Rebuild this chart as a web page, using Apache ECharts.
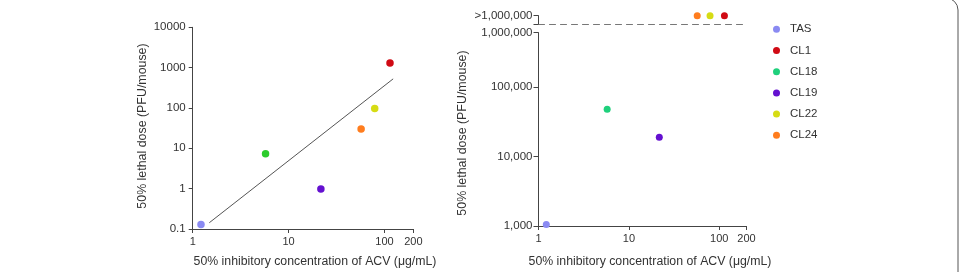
<!DOCTYPE html>
<html>
<head>
<meta charset="utf-8">
<script src="https://cdn.jsdelivr.net/npm/echarts@6/dist/echarts.min.js"></script>
<style>
  html, body { margin: 0; padding: 0; background: #fff; }
  #main { width: 961px; height: 272px; }
</style>
</head>
<body>
<div id="main"></div>
<script>
// 数据
var strains = ['TAS', 'CL1', 'CL18', 'CL19', 'CL22', 'CL24'];
var ic50 = [1.22, 114, 5.75, 21.7, 79, 57];
var ld50Left = [0.13, 1300, 7.3, 0.98, 97, 30];
var ld50Right = [1050, '>1,000,000', 48000, 19000, '>1,000,000', '>1,000,000'];
var colorsRight = ['#8a8af2', '#d00a14', '#1fd07c', '#6410d0', '#d6dc14', '#ff7d1e'];
var colorsLeft = ['#8a8af2', '#d00a14', '#2ccc2c', '#6410d0', '#d6dc14', '#ff7d1e'];
var trendX = [1.49, 123];
var trendY = [0.143, 527];

var xTicks = [1, 10, 100, 200];
var yTicksLeft = [0.1, 1, 10, 100, 1000, 10000];
var yTicksRight = [1000, 10000, 100000];
var yTicksTop = [1000000];
var overCats = ['', '>1,000,000'];

var FONT = '"Liberation Sans", Arial, sans-serif';
var axisColor = '#444';

function fmtComma(v) {
    return Math.round(v).toLocaleString('en-US');
}

function logX(grid, show) {
    return {
        type: 'log', gridIndex: grid, min: 1, max: 200, show: show,
        axisLine: { lineStyle: { color: axisColor, width: 1 } },
        axisTick: { length: 4, customValues: xTicks, lineStyle: { color: axisColor } },
        axisLabel: { customValues: xTicks, margin: 7, color: '#333', fontSize: 11, fontFamily: FONT },
        splitLine: { show: false }
    };
}

var myChart = echarts.init(document.getElementById('main'), null, { renderer: 'canvas' });

var series = [];
// 右图 (先放，图例取这里的颜色)
for (var i = 0; i < strains.length; i++) {
    var over = typeof ld50Right[i] === 'string';
    series.push({
        name: strains[i],
        type: 'scatter',
        xAxisIndex: over ? 3 : 1,
        yAxisIndex: over ? 3 : 1,
        symbolSize: 7,
        clip: false,
        itemStyle: { color: colorsRight[i], opacity: 1 },
        data: [[ic50[i], ld50Right[i]]]
    });
}
// 左图
for (var j = 0; j < strains.length; j++) {
    series.push({
        name: strains[j],
        type: 'scatter',
        xAxisIndex: 0,
        yAxisIndex: 0,
        symbolSize: 7.5,
        clip: false,
        itemStyle: { color: colorsLeft[j], opacity: 1 },
        data: [[ic50[j], ld50Left[j]]]
    });
}
// 趋势线
series.push({
    type: 'line',
    xAxisIndex: 0,
    yAxisIndex: 0,
    symbol: 'none',
    silent: true,
    lineStyle: { color: '#555', width: 1 },
    data: [[trendX[0], trendY[0]], [trendX[1], trendY[1]]]
});

var option = {
    animation: false,
    backgroundColor: '#fff',
    textStyle: { fontFamily: FONT },
    grid: [
        { left: 192.7, width: 220.7, top: 27.3, height: 201.7 },
        { left: 538.5, width: 208, top: 87, height: 139 },
        { left: 538.5, width: 208, top: 32.7, height: 54.3 },
        { left: 538.5, width: 208, top: 15.7, height: 8.3 }
    ],
    legend: {
        data: strains,
        orient: 'vertical',
        left: 768,
        top: 17.3,
        icon: 'circle',
        itemWidth: 7,
        itemHeight: 7,
        itemGap: 7.2,
        textStyle: { color: '#333', fontSize: 11.5, fontFamily: FONT, lineHeight: 14, padding: [0, 0, 0, 5] }
    },
    xAxis: [
        logX(0, true),
        logX(1, true),
        { type: 'log', gridIndex: 2, min: 1, max: 200, show: false },
        {
            type: 'log', gridIndex: 3, min: 1, max: 200, position: 'bottom',
            axisLine: { show: true, onZero: false, lineStyle: { color: '#777', type: [6, 5], width: 1 } },
            axisTick: { show: false },
            axisLabel: { show: false },
            splitLine: { show: false }
        }
    ],
    yAxis: [
        {
            type: 'log', gridIndex: 0, min: 0.1, max: 10000,
            axisLine: { show: true, lineStyle: { color: axisColor } },
            axisTick: { show: true, length: 4, customValues: yTicksLeft, lineStyle: { color: axisColor } },
            axisLabel: {
                customValues: yTicksLeft, margin: 7, color: '#333', fontSize: 11.5, fontFamily: FONT,
                formatter: function (v) { return String(+v.toPrecision(3)); }
            },
            splitLine: { show: false }
        },
        {
            type: 'log', gridIndex: 1, min: 1000, max: 100000,
            axisLine: { show: true, lineStyle: { color: axisColor } },
            axisTick: { show: true, length: 5, customValues: yTicksRight, lineStyle: { color: axisColor } },
            axisLabel: { customValues: yTicksRight, margin: 6, color: '#333', fontSize: 11.5, fontFamily: FONT, formatter: fmtComma },
            splitLine: { show: false }
        },
        {
            type: 'log', gridIndex: 2, min: 100000, max: 1000000,
            axisLine: { show: true, lineStyle: { color: axisColor } },
            axisTick: { show: true, length: 5, customValues: yTicksTop, lineStyle: { color: axisColor } },
            axisLabel: { customValues: yTicksTop, margin: 6, color: '#333', fontSize: 11.5, fontFamily: FONT, formatter: fmtComma },
            splitLine: { show: false }
        },
        {
            type: 'category', gridIndex: 3, data: overCats, boundaryGap: false,
            axisLine: { show: true, lineStyle: { color: axisColor } },
            axisTick: { show: true, length: 5, lineStyle: { color: axisColor } },
            axisLabel: { margin: 6, color: '#333', fontSize: 11.5, fontFamily: FONT, interval: 0 },
            splitLine: { show: false }
        }
    ],
    graphic: [
        {
            type: 'text', x: 143, y: 126, rotation: Math.PI / 2,
            style: { text: '50% lethal dose (PFU/mouse)', font: '12.4px ' + FONT, fill: '#333', align: 'center', verticalAlign: 'middle' }
        },
        {
            type: 'text', x: 315, y: 261.7,
            style: { text: '50% inhibitory concentration of ACV (\u03bcg/mL)', font: '12.3px ' + FONT, fill: '#333', align: 'center', verticalAlign: 'middle' }
        },
        {
            type: 'text', x: 463, y: 133, rotation: Math.PI / 2,
            style: { text: '50% lethal dose (PFU/mouse)', font: '12.4px ' + FONT, fill: '#333', align: 'center', verticalAlign: 'middle' }
        },
        {
            type: 'text', x: 650, y: 261.7,
            style: { text: '50% inhibitory concentration of ACV (\u03bcg/mL)', font: '12.3px ' + FONT, fill: '#333', align: 'center', verticalAlign: 'middle' }
        },
        {
            type: 'rect', silent: true,
            shape: { x: -20, y: -2, width: 978, height: 300, r: 12 },
            style: { fill: 'none', stroke: '#555', lineWidth: 1 }
        }
    ],
    series: series
};

myChart.setOption(option);
</script>
</body>
</html>
